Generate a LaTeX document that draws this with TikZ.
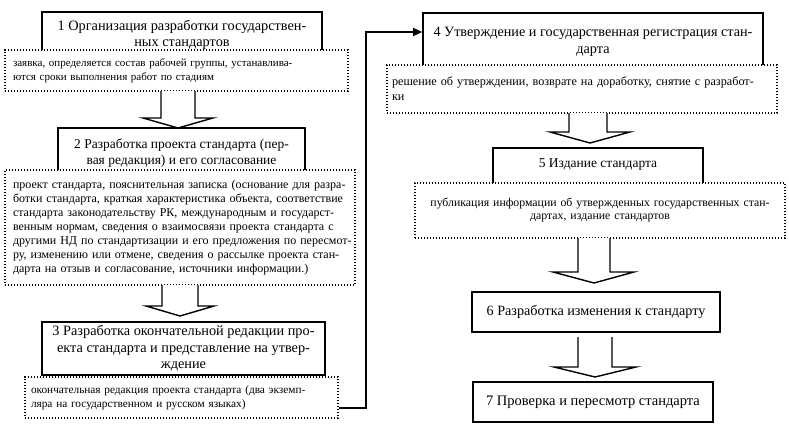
\documentclass[tikz,border=0pt]{standalone}
\usepackage{fontspec}
\setmainfont{Liberation Serif}
\usetikzlibrary{arrows.meta}
\newcommand\fsz[2]{\fontsize{#1}{#2}\selectfont}
\newcommand\oneline[1]{\mbox{#1}}
\begin{document}
\begin{tikzpicture}[x=1pt,y=-1pt,
  solidbox/.style={draw, line width=1.6pt, fill=white, inner sep=0pt, font=\fsz{14.3}{16.5}, align=center},
  dotbox/.style={draw, line width=1.6pt, dash pattern=on 1.4pt off 1.6pt, fill=white, inner sep=0pt, font=\fsz{11}{14}},
  blockarr/.style={draw, line width=1.4pt, fill=white, line join=miter},
  conn/.style={line width=1.4pt, -{Triangle[length=9pt,width=8pt]}}]
\useasboundingbox (0,0) rectangle (789,442);

% left column
\node[solidbox, minimum width=280pt, minimum height=46pt] (b1) at (182,35)
  {1 Организация разработки государствен-\\ных стандартов};
\node[dotbox, minimum width=343pt, minimum height=41pt, text width=327pt, align=left] (d1) at (176.5,70.5)
  {\oneline{заявка, определяется состав рабочей группы, устанавлива-}\\\oneline{ются сроки выполнения работ по стадиям}};

\node[solidbox, font=\fsz{13.5}{16}, minimum width=247pt, minimum height=50pt] (b2) at (181.5,153)
  {2 Разработка проекта стандарта (пер-\\вая редакция) и его согласование};
\node[dotbox, font=\fsz{12}{13.9}, minimum width=350pt, minimum height=115pt, text width=334pt, align=left] (d2) at (180,227.5)
  {\oneline{проект стандарта, пояснительная записка (основание для разра-}\\
   \oneline{ботки стандарта, краткая характеристика объекта, соответствие}\\
   \oneline{стандарта законодательству РК, международным и государст-}\\
   \oneline{венным нормам, сведения о взаимосвязи проекта стандарта с}\\
   \oneline{другими НД по стандартизации и его предложения по пересмот-}\\
   \oneline{ру, изменению или отмене, сведения о рассылке проекта стан-}\\
   \oneline{дарта на отзыв и согласование, источники информации.)}};

\node[solidbox, minimum width=283pt, minimum height=53pt] (b3) at (183.5,348.5)
  {3 Разработка окончательной редакции про-\\екта стандарта и представление на утвер-\\ждение};
\node[dotbox, font=\fsz{11.3}{14}, minimum width=313pt, minimum height=41pt, text width=301pt, align=left] (d3) at (181.5,397.5)
  {\oneline{окончательная редакция проекта стандарта (два экземп-}\\\oneline{ляра на государственном и русском языках)}};

% right column
\node[solidbox, font=\fsz{14.2}{17}, minimum width=340pt, minimum height=58pt] (b4) at (593,42)
  {4 Утверждение и государственная регистрация стан-\\дарта};
\node[dotbox, font=\fsz{12.2}{15}, minimum width=390pt, minimum height=48pt, text width=380pt, align=left] (d4) at (582,89)
  {\oneline{решение об утверждении, возврате на доработку, снятие с разработ-}\\\oneline{ки}};

\node[solidbox, font=\fsz{13.5}{16}, minimum width=210pt, minimum height=40pt, text height=9.5pt, text depth=11.5pt] (b5) at (598,168)
  {5 Издание стандарта};
\node[dotbox, font=\fsz{11.8}{13}, minimum width=370pt, minimum height=55pt, text width=360pt, align=center] (d5) at (600,210.5)
  {\oneline{публикация информации об утвержденных государственных стан-}\\\oneline{дартах, издание стандартов}};

\node[solidbox, font=\fsz{14.2}{16.5}, minimum width=248pt, minimum height=40pt] (b6) at (596,312)
  {6 Разработка изменения к стандарту};
\node[solidbox, font=\fsz{14.5}{16.5}, minimum width=240pt, minimum height=40pt] (b7) at (593,402)
  {7 Проверка и пересмотр стандарта};

% block arrows
\draw[blockarr] (161,91) -- (161,118) -- (143,118) -- (178,128) -- (213,118) -- (195,118) -- (195,91);
\draw[blockarr] (162,285) -- (162,306) -- (146,306) -- (180,316) -- (214,306) -- (198,306) -- (198,285);
\draw[blockarr] (569,113) -- (569,132) -- (550,132) -- (590,143) -- (630,132) -- (607,132) -- (607,113);
\draw[blockarr] (578,238) -- (578,272) -- (553,272) -- (594,283) -- (634,272) -- (610,272) -- (610,238);
\draw[blockarr] (578,337) -- (578,367) -- (554,367) -- (595,377) -- (636,367) -- (612,367) -- (612,337);

% connector from stage 3 to stage 4
\coordinate (c1) at (366,408);
\coordinate (c2) at (366,32);
\draw[conn] (d3.east |- c1) -- (c1) -- (c2) -- (b4.west |- c2);
\end{tikzpicture}
\end{document}
